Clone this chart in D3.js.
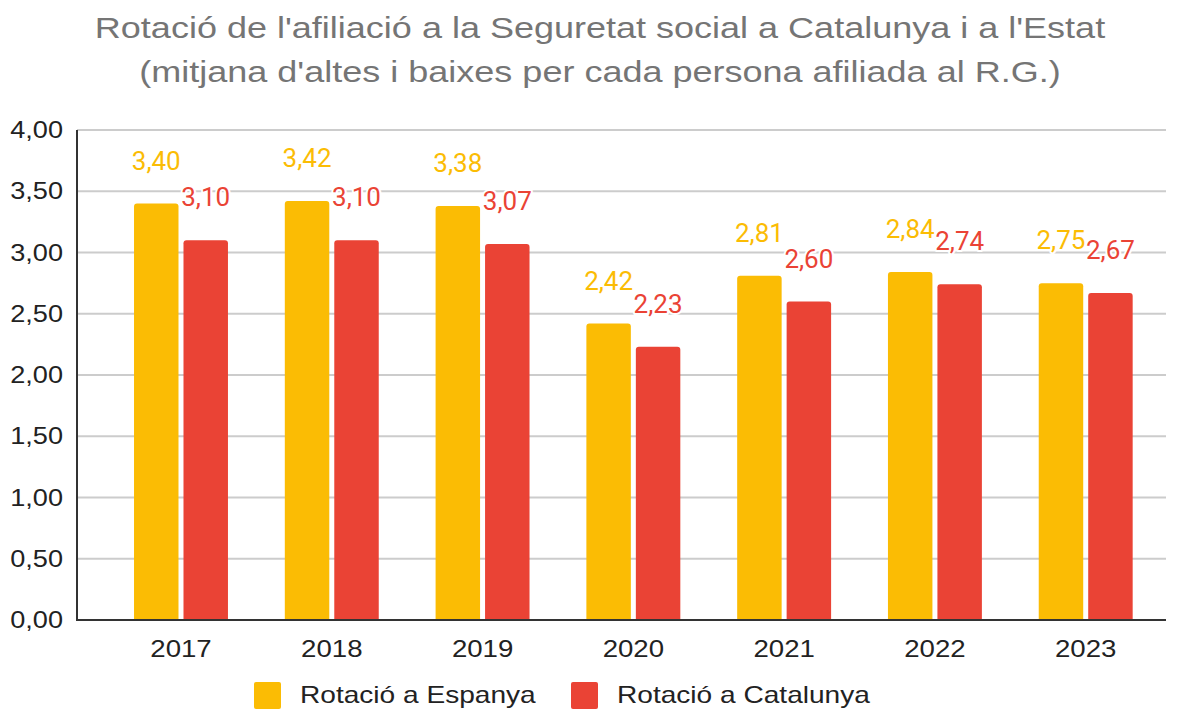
<!DOCTYPE html>
<html>
<head>
<meta charset="utf-8">
<script src="https://cdn.jsdelivr.net/npm/d3@7"></script>
<style>
  html, body { margin: 0; padding: 0; background: #fff; }
  svg { display: block; }
</style>
</head>
<body>
<svg id="chart" width="1182" height="709"></svg>
<script>
const titleLines = [
  "Rotació de l'afiliació a la Seguretat social a Catalunya i a l'Estat",
  "(mitjana d'altes i baixes per cada persona afiliada al R.G.)"
];
const years = ["2017", "2018", "2019", "2020", "2021", "2022", "2023"];
const seriesNames = ["Rotació a Espanya", "Rotació a Catalunya"];
const espanya = [3.40, 3.42, 3.38, 2.42, 2.81, 2.84, 2.75];
const catalunya = [3.10, 3.10, 3.07, 2.23, 2.60, 2.74, 2.67];
const yTicks = [0, 0.5, 1, 1.5, 2, 2.5, 3, 3.5, 4];
const colors = ["#FBBC04", "#EA4335"];

const svg = d3.select("#chart");
const plot = { left: 77, right: 1166, top: 130, bottom: 620 };

const fmt = v => d3.format(".2f")(v).replace(".", ",");
const stretch = (sel, k) => sel.each(function () {
  const len = this.getComputedTextLength();
  d3.select(this).attr("textLength", len * k).attr("lengthAdjust", "spacingAndGlyphs");
});

// Title
svg.append("g").selectAll("text").data(titleLines).join("text")
  .attr("x", 600).attr("y", (d, i) => 38 + i * 44)
  .attr("text-anchor", "middle")
  .attr("font-family", "Liberation Sans, Arial, sans-serif")
  .attr("font-size", 30)
  .attr("fill", "#757575")
  .text(d => d)
  .call(stretch, 1.2);

const y = d3.scaleLinear().domain([0, 4]).range([plot.bottom, plot.top]);
const x0 = d3.scaleBand().domain(years).range([105.6, 1161.1]).paddingInner(0.377).paddingOuter(0.1885);
const x1 = d3.scaleBand().domain(seriesNames).range([0, x0.bandwidth()]).paddingInner(0.101);

// gridlines
svg.append("g").selectAll("line").data(yTicks.filter(d => d > 0)).join("line")
  .attr("x1", plot.left).attr("x2", plot.right)
  .attr("y1", d => y(d)).attr("y2", d => y(d))
  .attr("stroke", "#cccccc").attr("stroke-width", 2);

// y axis labels
const yAxis = d3.axisLeft(y).tickValues(yTicks).tickFormat(fmt).tickSize(0).tickPadding(14);
const gy = svg.append("g").attr("transform", `translate(${plot.left},0)`).call(yAxis);
gy.select(".domain").remove();
gy.selectAll("text")
  .attr("font-family", "Liberation Sans, Arial, sans-serif")
  .attr("font-size", 24).attr("fill", "#222")
  .call(stretch, 1.13);

// bars
const data = years.map((yr, i) => ({ year: yr, vals: [espanya[i], catalunya[i]] }));
const r = 3;
function barPath(xl, w, yt, yb) {
  return `M${xl},${yb}V${yt + r}Q${xl},${yt} ${xl + r},${yt}H${xl + w - r}Q${xl + w},${yt} ${xl + w},${yt + r}V${yb}Z`;
}
const groups = svg.append("g").selectAll("g").data(data).join("g")
  .attr("transform", d => `translate(${x0(d.year)},0)`);
groups.selectAll("path").data(d => d.vals.map((v, j) => ({ v, s: seriesNames[j], j }))).join("path")
  .attr("d", d => barPath(x1(d.s), x1.bandwidth(), y(d.v), y(0)))
  .attr("fill", d => colors[d.j]);

// x axis
const xAxis = d3.axisBottom(x0).tickSize(0).tickPadding(20);
const gx = svg.append("g").attr("transform", `translate(0,${plot.bottom})`).call(xAxis);
gx.select(".domain").remove();
gx.selectAll("text")
  .attr("font-family", "Liberation Sans, Arial, sans-serif")
  .attr("font-size", 24).attr("fill", "#222")
  .call(stretch, 1.15);

// axis lines
svg.append("line").attr("x1", plot.left).attr("x2", plot.right)
  .attr("y1", plot.bottom).attr("y2", plot.bottom)
  .attr("stroke", "#333").attr("stroke-width", 2);
svg.append("line").attr("x1", plot.left).attr("x2", plot.left)
  .attr("y1", plot.top).attr("y2", plot.bottom + 1)
  .attr("stroke", "#333").attr("stroke-width", 2);

// value labels (Espanya first, then Catalunya on top)
seriesNames.forEach((s, j) => {
  svg.append("g").selectAll("text").data(data).join("text")
    .attr("x", d => x0(d.year) + x1(s) + x1.bandwidth() / 2)
    .attr("y", d => y(d.vals[j]) - 34)
    .attr("text-anchor", "middle")
    .attr("font-family", "Roboto, sans-serif")
    .attr("font-size", 26)
    .attr("fill", colors[j])
    .attr("stroke", "#fff").attr("stroke-width", 4)
    .attr("paint-order", "stroke")
    .attr("stroke-linejoin", "round")
    .text(d => fmt(d.vals[j]));
});

// legend
const legendX = [254, 571];
const lg = svg.append("g").selectAll("g").data(seriesNames).join("g")
  .attr("transform", (d, i) => `translate(${legendX[i]},682)`);
lg.append("rect").attr("width", 27).attr("height", 27).attr("rx", 2)
  .attr("fill", (d, i) => colors[i]);
lg.append("text").attr("x", 46).attr("y", 21)
  .attr("font-family", "Liberation Sans, Arial, sans-serif")
  .attr("font-size", 24).attr("fill", "#222")
  .text(d => d)
  .call(stretch, 1.17);
</script>
</body>
</html>
